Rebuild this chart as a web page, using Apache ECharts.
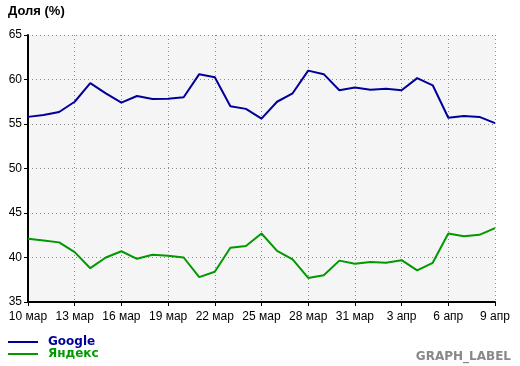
<!DOCTYPE html>
<html><head><meta charset="utf-8">
<script src="https://cdn.jsdelivr.net/npm/echarts@6/dist/echarts.min.js"></script>
<style>html,body{margin:0;padding:0;background:#fff}#c{width:520px;height:366px}</style>
</head><body><div id="c"></div>
<script>
var categories = ['10 мар','11 мар','12 мар','13 мар','14 мар','15 мар','16 мар','17 мар','18 мар','19 мар','20 мар','21 мар','22 мар','23 мар','24 мар','25 мар','26 мар','27 мар','28 мар','29 мар','30 мар','31 мар','1 апр','2 апр','3 апр','4 апр','5 апр','6 апр','7 апр','8 апр','9 апр'];
var google = [55.8,56.0,56.35,57.5,59.6,58.45,57.4,58.15,57.8,57.85,58.0,60.6,60.25,57.0,56.7,55.6,57.5,58.45,61.0,60.6,58.8,59.1,58.85,58.95,58.8,60.15,59.35,55.7,55.9,55.8,55.1];
var yandex = [42.1,41.9,41.7,40.6,38.8,40.0,40.7,39.85,40.3,40.2,40.0,37.8,38.4,41.1,41.3,42.7,40.75,39.8,37.7,38.0,39.65,39.3,39.5,39.4,39.7,38.55,39.4,42.7,42.4,42.55,43.3];
var seriesNames = ['Google','Яндекс'];
var colors = ['#000099','#009900'];
var yTicks = {min:35, max:65, interval:5};

var chart = echarts.init(document.getElementById('c'), null, {renderer:'canvas'});
var font = 'Liberation Sans, Arial, sans-serif';
chart.setOption({
  animation:false,
  title:{text:'Доля (%)', left:8, top:5, padding:0, textStyle:{fontFamily:'Liberation Sans, Arial, sans-serif', fontSize:13, fontWeight:'bold', color:'#000'}},
  grid:{left:28, right:25, top:35, bottom:64, show:true, backgroundColor:'#f5f5f5', borderWidth:0},
  legend:{
    orient:'vertical', left:8, top:336, itemWidth:30, itemHeight:2, itemGap:0,
    icon:'rect',
    data:[
      {name:seriesNames[0], textStyle:{color:colors[0]}},
      {name:seriesNames[1], textStyle:{color:colors[1]}}
    ],
    textStyle:{fontFamily:'DejaVu Sans, sans-serif', fontSize:12, fontWeight:'bold', padding:[0,0,0,5], lineHeight:12},
    padding:0
  },
  xAxis:{
    type:'category', data:categories, boundaryGap:false,
    axisLine:{lineStyle:{color:'#000', width:2}},
    axisTick:{interval:2, length:4, lineStyle:{color:'#000'}},
    axisLabel:{interval:2, color:'#000', fontFamily:font, fontSize:12, margin:9},
    splitLine:{show:true, interval:2, lineStyle:{color:'#888', type:[1,3], width:1}}
  },
  yAxis:{
    type:'value', min:yTicks.min, max:yTicks.max, interval:yTicks.interval,
    axisLine:{show:true, lineStyle:{color:'#000', width:2}},
    axisTick:{show:true, length:4, lineStyle:{color:'#000'}},
    axisLabel:{color:'#000', fontFamily:font, fontSize:12, margin:6},
    splitLine:{show:true, lineStyle:{color:'#888', type:[1,3], width:1}}
  },
  graphic:[{type:'text', right:9, top:351, style:{text:'GRAPH_LABEL', fill:'#888', font:'bold 12px DejaVu Sans, sans-serif'}}],
  series:[
    {name:seriesNames[0], type:'line', data:google, symbol:'none', lineStyle:{color:colors[0], width:2}, itemStyle:{color:colors[0]}},
    {name:seriesNames[1], type:'line', data:yandex, symbol:'none', lineStyle:{color:colors[1], width:2}, itemStyle:{color:colors[1]}}
  ]
});
</script></body></html>
